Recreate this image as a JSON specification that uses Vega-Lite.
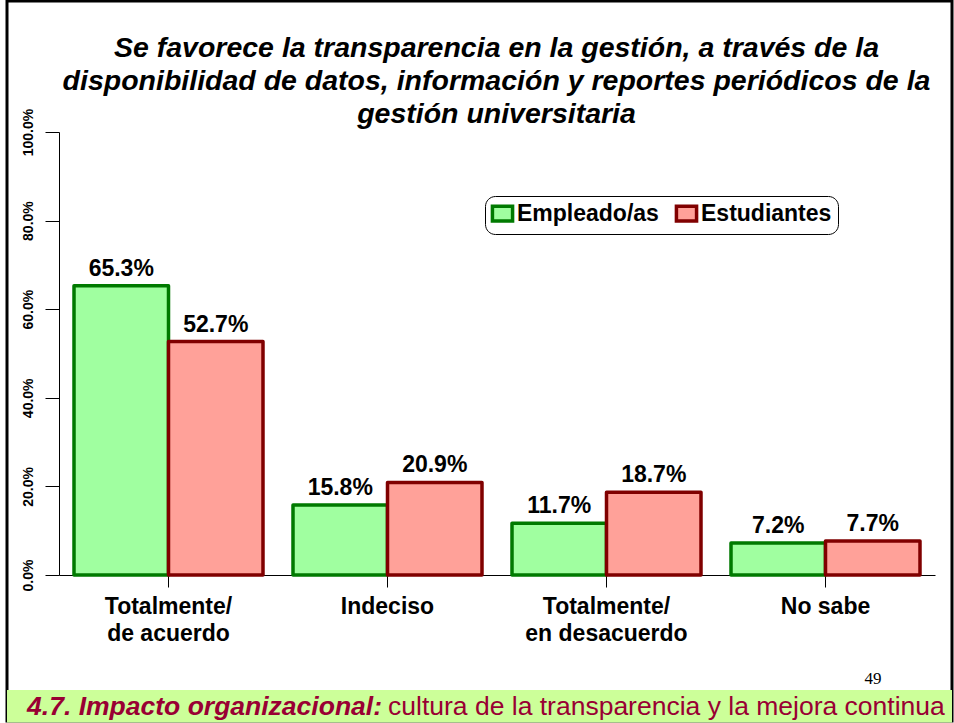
{
  "$schema": "https://vega.github.io/schema/vega-lite/v6.json",
  "width": 945,
  "height": 720,
  "autosize": {"type": "none"},
  "padding": {"left": 7, "top": 1, "right": 2, "bottom": 2},
  "background": "white",
  "config": {
    "view": {"stroke": "#000", "strokeWidth": 3},
    "font": "Liberation Sans"
  },
  "title": {
    "text": [
      "Se favorece la transparencia en la gestión, a través de la",
      "disponibilidad de datos, información y reportes periódicos de la",
      "gestión universitaria"
    ],
    "fontSize": 28.5,
    "fontStyle": "italic",
    "fontWeight": "bold",
    "lineHeight": 33,
    "anchor": "middle",
    "frame": "group",
    "offset": -127,
    "dx": 17,
    "color": "#000",
    "font": "Liberation Sans"
  },
  "layer": [
    {
      "data": {"values": [{"t": "footer"}]},
      "mark": {"type": "rect", "fill": "#ccff99"},
      "encoding": {
        "y": {"datum": -0.2596, "type": "quantitative"},
        "y2": {"datum": -0.333}
      }
    },
    {
      "data": {
        "values": [
          {"category": "Totalmente/|de acuerdo", "group": "Empleado/as", "value": 0.653},
          {"category": "Totalmente/|de acuerdo", "group": "Estudiantes", "value": 0.527},
          {"category": "Indeciso", "group": "Empleado/as", "value": 0.158},
          {"category": "Indeciso", "group": "Estudiantes", "value": 0.209},
          {"category": "Totalmente/|en desacuerdo", "group": "Empleado/as", "value": 0.117},
          {"category": "Totalmente/|en desacuerdo", "group": "Estudiantes", "value": 0.187},
          {"category": "No sabe", "group": "Empleado/as", "value": 0.072},
          {"category": "No sabe", "group": "Estudiantes", "value": 0.077}
        ]
      },
      "encoding": {
        "x": {
          "field": "category",
          "type": "nominal",
          "sort": ["Totalmente/|de acuerdo", "Indeciso", "Totalmente/|en desacuerdo", "No sabe"],
          "scale": {"range": [52, 928], "paddingInner": 0.137, "paddingOuter": 0.0685},
          "axis": {
            "offset": -146,
            "title": null,
            "labelExpr": "split(datum.label, '|')",
            "labelFontSize": 23,
            "labelFontWeight": "bold",
            "labelLineHeight": 27,
            "labelPadding": 8,
            "labelAngle": 0,
            "labelBaseline": "top",
            "tickSize": 12,
            "domainColor": "#000",
            "tickColor": "#000",
            "labelColor": "#000"
          }
        },
        "xOffset": {
          "field": "group",
          "type": "nominal",
          "sort": ["Empleado/as", "Estudiantes"],
          "scale": {"paddingInner": 0, "paddingOuter": 0}
        },
        "y": {
          "field": "value",
          "type": "quantitative",
          "scale": {"domain": [0, 1], "range": [574, 131], "nice": false, "zero": true},
          "axis": {
            "offset": -52,
            "values": [0, 0.2, 0.4, 0.6, 0.8, 1],
            "format": ".1%",
            "labelAngle": 270,
            "labelAlign": "center",
            "labelBaseline": "bottom",
            "labelFontSize": 14,
            "labelFontWeight": "bold",
            "labelPadding": 10,
            "tickSize": 14,
            "grid": false,
            "title": null,
            "domainColor": "#000",
            "tickColor": "#000",
            "labelColor": "#000"
          }
        }
      },
      "layer": [
        {
          "mark": {"type": "bar", "strokeWidth": 3.5, "strokeJoin": "round"},
          "encoding": {
            "fill": {
              "field": "group",
              "type": "nominal",
              "scale": {"domain": ["Empleado/as", "Estudiantes"], "range": ["#a0ffa0", "#ffa199"]},
              "legend": {
                "title": null,
                "orient": "none",
                "legendX": 478,
                "legendY": 195,
                "direction": "horizontal",
                "strokeColor": "#000",
                "cornerRadius": 10,
                "padding": 6,
                "labelFontSize": 23,
                "labelFontWeight": "bold",
                "labelColor": "#000",
                "symbolType": "M-1.25,-0.9H1.25V0.9H-1.25Z",
                "symbolSize": 260,
                "symbolStrokeWidth": 3.5,
                "columnPadding": 10,
                "labelOffset": 3
              }
            },
            "stroke": {
              "field": "group",
              "type": "nominal",
              "scale": {"domain": ["Empleado/as", "Estudiantes"], "range": ["#007a00", "#800000"]},
              "legend": {
                "title": null,
                "orient": "none",
                "legendX": 478,
                "legendY": 195,
                "direction": "horizontal",
                "strokeColor": "#000",
                "cornerRadius": 10,
                "padding": 6,
                "labelFontSize": 23,
                "labelFontWeight": "bold",
                "labelColor": "#000",
                "symbolType": "M-1.25,-0.9H1.25V0.9H-1.25Z",
                "symbolSize": 260,
                "symbolStrokeWidth": 3.5,
                "columnPadding": 10,
                "labelOffset": 3
              }
            }
          }
        },
        {
          "mark": {"type": "text", "fontSize": 23, "fontWeight": "bold", "baseline": "alphabetic", "dy": -10, "color": "#000"},
          "encoding": {
            "text": {"field": "value", "type": "quantitative", "format": ".1%"}
          }
        }
      ]
    },
    {
      "data": {"values": [{"t": "4.7. Impacto organizacional:"}]},
      "mark": {"type": "text", "align": "right", "dx": -97.5, "fontSize": 26.5, "fontStyle": "italic", "fontWeight": "bold", "color": "#990033", "baseline": "alphabetic"},
      "encoding": {
        "y": {"datum": -0.316, "type": "quantitative"},
        "text": {"field": "t"}
      }
    },
    {
      "data": {"values": [{"t": "cultura de la transparencia y la mejora continua"}]},
      "mark": {"type": "text", "align": "left", "dx": -91.5, "fontSize": 26.5, "color": "#990033", "baseline": "alphabetic"},
      "encoding": {
        "y": {"datum": -0.316, "type": "quantitative"},
        "text": {"field": "t"}
      }
    },
    {
      "data": {"values": [{"t": "49"}]},
      "mark": {"type": "text", "align": "center", "dx": 393.5, "fontSize": 17, "font": "Liberation Serif", "color": "#000", "baseline": "alphabetic"},
      "encoding": {
        "y": {"datum": -0.246, "type": "quantitative"},
        "text": {"field": "t"}
      }
    }
  ]
}
